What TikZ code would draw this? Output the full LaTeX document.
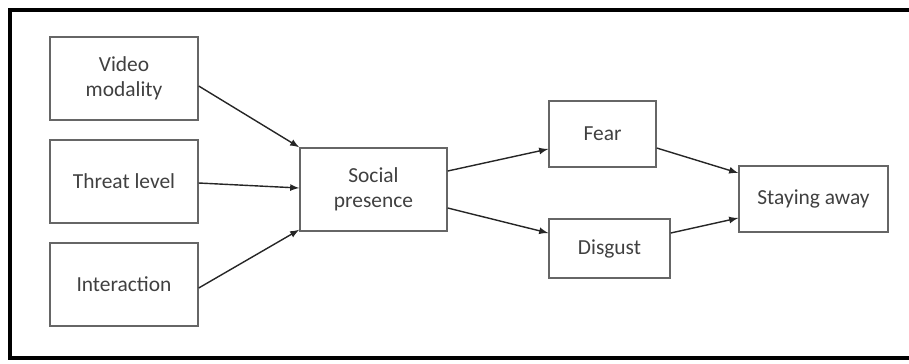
\documentclass[tikz,border=0pt]{standalone}
\usepackage{fontspec}
\setmainfont{Carlito}
\usetikzlibrary{positioning,arrows,shapes,calc}
\definecolor{colbox}{rgb}{0.40, 0.40, 0.40}
\definecolor{coltxt}{rgb}{0.25, 0.25, 0.25}

\tikzset{
  factor/.style={draw=colbox, line width=0.8pt, text=coltxt, align=center,
    font=\fontsize{12.2}{14.5}\selectfont, inner sep=0pt},
  link/.style={-latex, line width=0.8pt, black!85}
}

\begin{document}
\begin{tikzpicture}[x=0.02cm, y=-0.02cm]
    \useasboundingbox (0,0) rectangle (909,363);
    \draw[black, line width=2pt] (909,10) -- (10,10) -- (10,358) -- (909,358);
    % inputs
    \node[factor, minimum width=148*0.02cm, minimum height=83*0.02cm] (vid) at (124,78.5) {Video\\modality};
    \node[factor, minimum width=148*0.02cm, minimum height=83*0.02cm] (thr) at (124,181.5) {Threat level};
    \node[factor, minimum width=148*0.02cm, minimum height=83*0.02cm] (int) at (124,284.5) {Interaction};
    % mediator
    \node[factor, minimum width=147*0.02cm, minimum height=83*0.02cm] (sp) at (373.5,189.5) {Social\\presence};
    % emotions
    \node[factor, minimum width=107*0.02cm, minimum height=66*0.02cm] (fear) at (602.5,134) {Fear};
    \node[factor, minimum width=121*0.02cm, minimum height=59*0.02cm] (dis) at (609.5,248.5) {Disgust};
    % outcome
    \node[factor, minimum width=149*0.02cm, minimum height=66*0.02cm] (stay) at (813.5,199) {Staying away};

    \draw[link] ($(vid.east)+(0,7.5)$) -- (sp.north west);
    \draw[link] ($(thr.east)+(0,1.5)$) -- ($(sp.west)+(0,-1.5)$);
    \draw[link] ($(int.east)+(0,3.5)$) -- ($(sp.south west)+(0,-2)$);
    \draw[link] ($(sp.east)+(0,-18.5)$) -- ($(fear.west)+(0,15)$);
    \draw[link] ($(sp.east)+(0,18.5)$) -- ($(dis.west)+(0,-15.5)$);
    \draw[link] ($(fear.east)+(0,14)$) -- ($(stay.west)+(0,-26)$);
    \draw[link] ($(dis.east)+(0,-15.5)$) -- ($(stay.west)+(0,19)$);
  \end{tikzpicture}
\end{document}
